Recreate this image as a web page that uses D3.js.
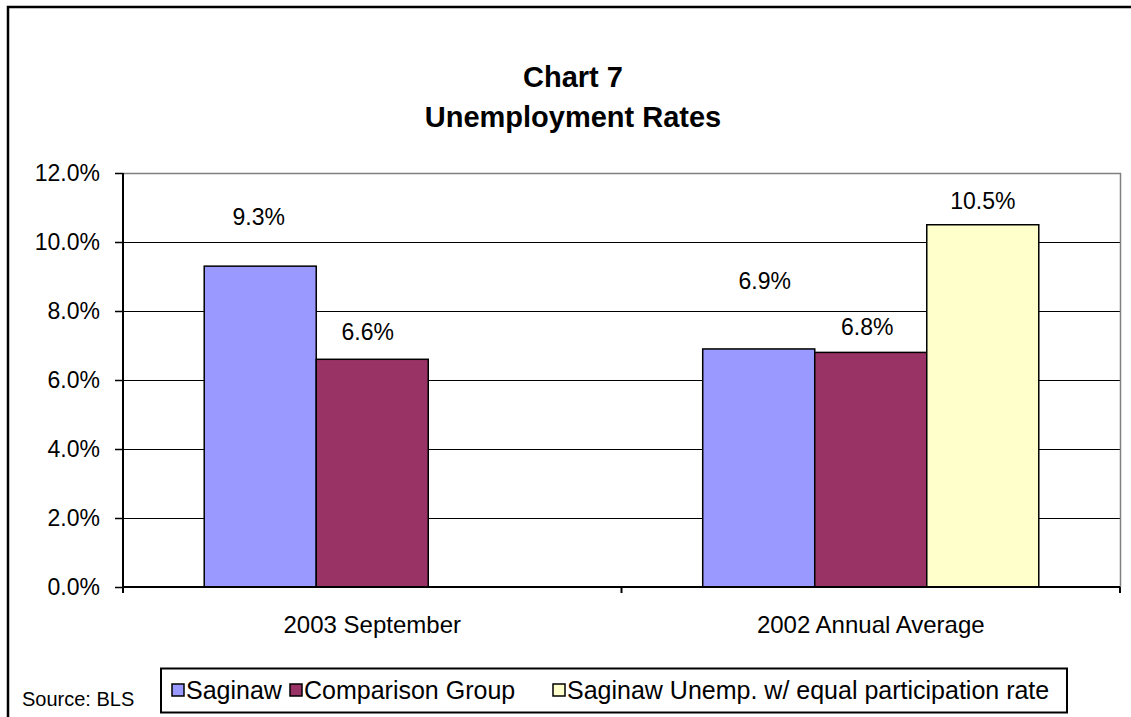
<!DOCTYPE html>
<html>
<head>
<meta charset="utf-8">
<script src="https://cdn.jsdelivr.net/npm/d3@7"></script>
<style>
  html, body { margin: 0; padding: 0; background: #fff; }
  svg { display: block; font-family: Arial, "Liberation Sans", Helvetica, sans-serif; }
</style>
</head>
<body>
<svg id="chart" width="1131" height="717"></svg>
<script>
// ---- data ----
const categories = ["2003 September", "2002 Annual Average"];
const seriesNames = ["Saginaw", "Comparison Group", "Saginaw Unemp. w/ equal participation rate"];
const saginaw = [9.3, 6.9];
const comparisonGroup = [6.6, 6.8];
const equalParticipation = [null, 10.5];
const yTicks = [0, 2, 4, 6, 8, 10, 12];
const titleLines = ["Chart 7", "Unemployment Rates"];
const sourceNote = "Source: BLS";

// ---- presentation ----
const colors = ["#9999FF", "#993366", "#FFFFCC"];
// hand-placed data-label nudges [dx, dy from bar top to baseline], per category then series
const labelNudge = [
  [[-1.5, -41], [-4.5, -19], [0, -16]],
  [[6, -60], [-3.5, -17], [0, -16]]
];

const seriesValues = [saginaw, comparisonGroup, equalParticipation];
const rows = categories.map((c, i) => ({
  category: c,
  values: seriesNames.map((s, j) => ({ series: s, idx: j, ci: i, value: seriesValues[j][i] }))
}));

const svg = d3.select("#chart");
const plot = { left: 123, right: 1120, top: 173, bottom: 587 };

// outer frame (top and left edges visible)
svg.append("rect")
  .attr("x", 8).attr("y", 7)
  .attr("width", 1140).attr("height", 730)
  .attr("fill", "none").attr("stroke", "#000").attr("stroke-width", 2.5);

// title
const title = svg.append("text")
  .attr("text-anchor", "middle")
  .attr("font-weight", "bold")
  .attr("font-size", 29);
titleLines.forEach((t, i) => {
  title.append("tspan").attr("x", 573).attr("y", 87 + i * 40).text(t);
});

// scales
const y = d3.scaleLinear().domain([0, 12]).range([plot.bottom, plot.top]);
const x0 = d3.scaleBand().domain(categories).range([plot.left, plot.right]).padding(0);
const x1 = d3.scaleBand().domain(seriesNames).range([0, x0.bandwidth()])
  .paddingInner(0).paddingOuter(0.725);

// gridlines
svg.append("g")
  .selectAll("line")
  .data(yTicks.filter(v => v > 0 && v < 12))
  .join("line")
  .attr("x1", plot.left).attr("x2", plot.right)
  .attr("y1", d => Math.round(y(d)) + 0.5).attr("y2", d => Math.round(y(d)) + 0.5)
  .attr("stroke", "#000").attr("stroke-width", 1);

// plot border (top and right, grey)
svg.append("path")
  .attr("d", `M${plot.left},${y(12) + 0.5}H${plot.right + 0.5}V${plot.bottom}`)
  .attr("fill", "none").attr("stroke", "#808080").attr("stroke-width", 1.5);

// bars
const groups = svg.append("g").selectAll("g")
  .data(rows)
  .join("g")
  .attr("transform", d => `translate(${x0(d.category)},0)`);

groups.selectAll("rect")
  .data(d => d.values.filter(v => v.value != null))
  .join("rect")
  .attr("x", d => x1(d.series))
  .attr("y", d => y(d.value))
  .attr("width", x1.bandwidth())
  .attr("height", d => y(0) - y(d.value))
  .attr("fill", d => colors[d.idx])
  .attr("stroke", "#000").attr("stroke-width", 1.5);

// data labels
groups.selectAll("text")
  .data(d => d.values.filter(v => v.value != null))
  .join("text")
  .attr("x", d => x1(d.series) + x1.bandwidth() / 2 + labelNudge[d.ci][d.idx][0])
  .attr("y", d => y(d.value) + labelNudge[d.ci][d.idx][1])
  .attr("text-anchor", "middle")
  .attr("font-size", 23)
  .attr("fill", "#000")
  .text(d => d3.format(".1f")(d.value) + "%");

// y axis
const yAxis = svg.append("g")
  .attr("transform", `translate(${plot.left},0)`)
  .call(d3.axisLeft(y).tickValues(yTicks).tickSize(8).tickPadding(15)
    .tickFormat(d => d3.format(".1%")(d / 100)));
yAxis.select(".domain").attr("stroke", "#000").attr("stroke-width", 2)
  .attr("d", `M0,${plot.top}V${plot.bottom + 6}`);
yAxis.selectAll(".tick line").attr("stroke", "#000").attr("stroke-width", 1.5);
yAxis.selectAll(".tick text")
  .attr("font-size", 23).attr("fill", "#000")
  .attr("font-family", "Arial, 'Liberation Sans', Helvetica, sans-serif");

// x axis
const xAxis = svg.append("g")
  .attr("transform", `translate(0,${plot.bottom})`)
  .call(d3.axisBottom(x0).tickSize(0).tickPadding(29));
xAxis.select(".domain").attr("stroke", "#000").attr("stroke-width", 2)
  .attr("d", `M${plot.left},0H${plot.right}`);
xAxis.selectAll(".tick text")
  .attr("font-size", 24).attr("fill", "#000")
  .attr("font-family", "Arial, 'Liberation Sans', Helvetica, sans-serif");
// category boundary ticks
const boundaries = categories.map(c => x0(c)).concat([x0(categories[categories.length - 1]) + x0.bandwidth()]);
xAxis.append("g").selectAll("line")
  .data(boundaries)
  .join("line")
  .attr("x1", d => d).attr("x2", d => d)
  .attr("y1", 0).attr("y2", 6)
  .attr("stroke", "#000").attr("stroke-width", 2);

// source note
svg.append("text")
  .attr("x", 22).attr("y", 706)
  .attr("font-size", 20).attr("fill", "#000")
  .text(sourceNote);

// legend
const legend = svg.append("g");
legend.append("rect")
  .attr("x", 161).attr("y", 668.5).attr("width", 906).attr("height", 44)
  .attr("fill", "#fff").attr("stroke", "#000").attr("stroke-width", 2);
const legendX = [172, 290, 553];
const items = legend.selectAll("g.item")
  .data(seriesNames)
  .join("g").attr("class", "item")
  .attr("transform", (d, i) => `translate(${legendX[i]},0)`);
items.append("rect")
  .attr("x", 0).attr("y", 684).attr("width", 12).attr("height", 12)
  .attr("fill", (d, i) => colors[i]).attr("stroke", "#000").attr("stroke-width", 1.5);
items.append("text")
  .attr("x", 14).attr("y", 699)
  .attr("font-size", 25).attr("fill", "#000")
  .text(d => d);
</script>
</body>
</html>
